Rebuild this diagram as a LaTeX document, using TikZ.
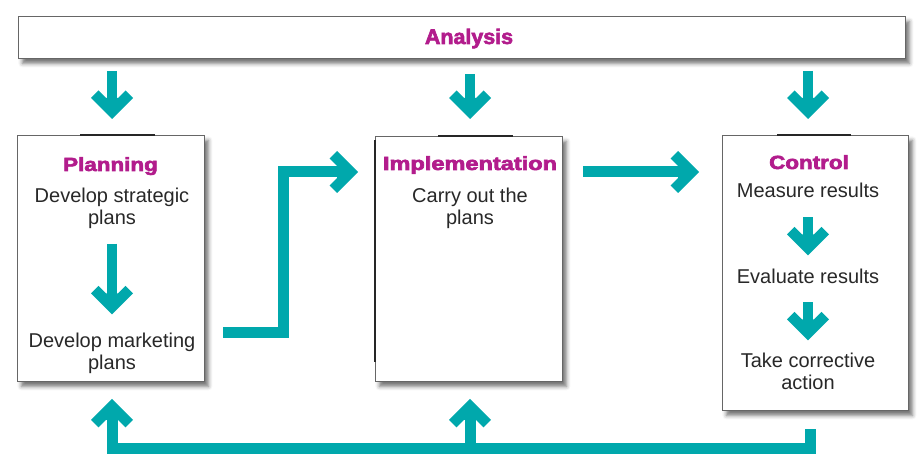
\documentclass[tikz,border=0pt]{standalone}
\usepackage{fontspec}
\setmainfont{Liberation Sans}
\newfontfamily\ttlfont{Liberation Sans Bold}[FakeBold=3]
\usepackage{graphicx}
\usetikzlibrary{shadows.blur}
\definecolor{tealc}{RGB}{0,168,172}
\definecolor{magc}{RGB}{178,28,140}
\definecolor{txtc}{RGB}{40,40,40}
\newcommand\widet[2][1.18]{\scalebox{#1}[1]{#2}}
\pgfdeclarearrow{
  name=Chev,
  setup code={
    \pgfarrowssettipend{0pt}
    \pgfarrowssetlineend{-17pt}
    \pgfarrowssetvisualbackend{-21pt}
    \pgfarrowssetbackend{-28.5pt}
    \pgfarrowshullpoint{0pt}{0pt}
    \pgfarrowsupperhullpoint{-21pt}{21pt}
    \pgfarrowsupperhullpoint{-28.5pt}{13.5pt}
  },
  drawing code={
    \pgfpathmoveto{\pgfpointorigin}
    \pgfpathlineto{\pgfpoint{-21pt}{21pt}}
    \pgfpathlineto{\pgfpoint{-28.5pt}{13.5pt}}
    \pgfpathlineto{\pgfpoint{-21pt}{6pt}}
    \pgfpathlineto{\pgfpoint{-21pt}{-6pt}}
    \pgfpathlineto{\pgfpoint{-28.5pt}{-13.5pt}}
    \pgfpathlineto{\pgfpoint{-21pt}{-21pt}}
    \pgfpathclose
    \pgfusepathqfill
  }
}
\tikzset{
  box/.style={draw=black!60, line width=0.8pt, fill=white, inner sep=0pt, anchor=north west,
    blur shadow={shadow xshift=4pt, shadow yshift=-5pt, shadow blur radius=4pt, shadow opacity=55}},
  ttl/.style={font=\fontsize{19}{22}\ttlfont, text=magc, inner sep=0pt, anchor=base},
  bodyt/.style={font=\fontsize{20}{22}\selectfont, text=txtc, align=center, inner sep=0pt},
  arr/.style={color=tealc, line width=11pt, line join=miter, -Chev},
  arrs/.style={arr, line width=10pt},
  darkedge/.style={draw=black!85, line width=1.6pt}
}
\begin{document}
\begin{tikzpicture}[x=1pt,y=-1pt]
\useasboundingbox (0,0) rectangle (923,473);
% boxes
\node[box, minimum width=887pt, minimum height=42pt] (ana) at (18,16) {};
\node[box, minimum width=187pt, minimum height=246pt] (pl) at (17,135) {};
\node[box, minimum width=187pt, minimum height=245pt] (im) at (375,136) {};
\node[box, minimum width=186pt, minimum height=275pt] (co) at (722,135) {};
% dark edges
\draw[darkedge] ([xshift=63pt]pl.north west) -- ([xshift=138pt]pl.north west);
\draw[darkedge] ([xshift=63pt]im.north west) -- ([xshift=138pt]im.north west);
\draw[darkedge] ([xshift=55pt]co.north west) -- ([xshift=129pt]co.north west);
\draw[darkedge] ([yshift=-4pt]im.north west) -- ([yshift=-226pt]im.north west);
% texts
\node[ttl, font=\fontsize{21}{24}\ttlfont] (anat) at (469,44) {\scalebox{1.02}[1]{Analysis}};
\node[ttl] (plt) at (110.5,171) {\widet{Planning}};
\node[bodyt] (pl1) at (112,208) {Develop strategic\\plans};
\node[bodyt] (pl2) at (112,353) {Develop marketing\\plans};
\node[ttl] (imt) at (470,170) {\widet[1.24]{Implementation}};
\node[bodyt] (im1) at (470,208) {Carry out the\\plans};
\node[ttl] (cot) at (809,169) {\widet{Control}};
\node[bodyt, anchor=base] (co1) at (808,197) {Measure results};
\node[bodyt, anchor=base] (co2) at (808,283) {Evaluate results};
\node[bodyt] (co3) at (808,371) {Take corrective\\action};
% arrows from analysis
\draw[arrs] ([yshift=-12pt]ana.south -| pl1) -- ([yshift=16pt]pl.north -| pl1);
\draw[arrs] ([yshift=-15pt]ana.south -| im1) -- ([yshift=17pt]im.north -| im1);
\draw[arrs] ([yshift=-12pt]ana.south -| co1) -- ([yshift=16pt]co.north -| co1);
% inner arrows
\draw[arrs] ([yshift=-15pt]pl1.south) -- ([yshift=18pt]pl2.north);
\draw[arrs] ([yshift=-20pt]co1.south) -- ([yshift=13pt]co2.north);
\draw[arrs] ([yshift=-19pt]co2.south) -- ([yshift=12pt]co3.north);
% planning -> implementation
\coordinate (e0) at (223,332);
\coordinate (e1) at (358,172);
\draw[arr] (e0) -- ++(60,0) |- (e1);
% implementation -> control
\draw[arr] ([xshift=20pt]im.east |- e1) -- ([xshift=-23pt]co.west |- e1);
% feedback
\coordinate (f0) at (810,429);
\coordinate (fb) at (810,448);
\draw[arr] (f0) -- (fb) -| ([yshift=-17pt]pl.south -| pl1);
\draw[arr] (im1 |- fb) -- ([yshift=-17pt]im.south -| im1);
\end{tikzpicture}
\end{document}
